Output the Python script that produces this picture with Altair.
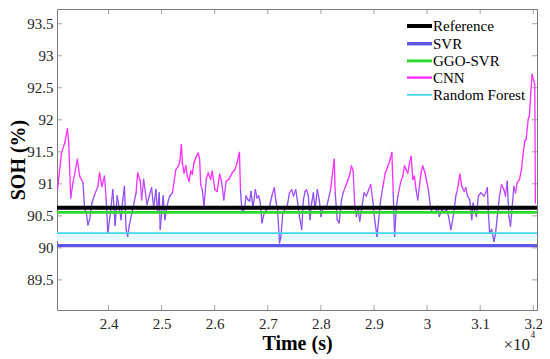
import altair as alt
import pandas as pd

# axis ranges and ticks
X_MIN, X_MAX = 23030, 32070
Y_MIN, Y_MAX = 89.03, 93.73
x_ticks = [24000, 25000, 26000, 27000, 28000, 29000, 30000, 31000, 32000]
y_ticks = [89.5, 90, 90.5, 91, 91.5, 92, 92.5, 93, 93.5]

# series
series_names = ["Reference", "SVR", "GGO-SVR", "CNN", "Random Forest"]
series_colors = ["#000000", "#5e56e4", "#2ed82e", "#ff2bff", "#44d6ea"]
series_widths = [4, 1.8, 2.4, 1.3, 1.2]

ref_soh = 90.625
svr_soh = 90.035
ggo_svr_soh = 90.555
rf_soh = 90.23
rf_band_low = 90.12

cnn_time = [23040, 23114, 23176, 23227, 23251, 23288, 23331, 23414, 23457, 23519,
            23551, 23582, 23612, 23644, 23687, 23738, 23800, 23831, 23875, 23925,
            23957, 23987, 24037, 24081, 24125, 24163, 24206, 24238, 24268, 24300,
            24331, 24361, 24393, 24455, 24519, 24549, 24599, 24624, 24661, 24725,
            24768, 24811, 24848, 24861, 24893, 24923, 24955, 24974, 25006, 25030,
            25062, 25092, 25129, 25155, 25204, 25268, 25317, 25343, 25373, 25391,
            25423, 25455, 25485, 25517, 25549, 25579, 25611, 25654, 25691, 25717,
            25736, 25766, 25798, 25841, 25878, 25923, 25953, 26004, 26047, 26092,
            26129, 26172, 26215, 26266, 26328, 26378, 26421, 26466, 26485, 26515,
            26560, 26590, 26627, 26659, 26684, 26721, 26766, 26796, 26828, 26860,
            26890, 26934, 26983, 27034, 27077, 27122, 27152, 27184, 27221, 27245,
            27283, 27328, 27371, 27408, 27451, 27483, 27526, 27564, 27596, 27639,
            27670, 27702, 27732, 27764, 27796, 27826, 27858, 27890, 27933, 27970,
            28002, 28032, 28064, 28096, 28139, 28182, 28219, 28251, 28270, 28307,
            28345, 28388, 28420, 28463, 28500, 28545, 28575, 28607, 28639, 28669,
            28700, 28732, 28775, 28813, 28856, 28901, 28938, 28976, 29013, 29056,
            29088, 29126, 29169, 29212, 29262, 29305, 29337, 29362, 29388, 29418,
            29450, 29500, 29543, 29575, 29605, 29637, 29669, 29699, 29731, 29762,
            29792, 29824, 29856, 29886, 29918, 29961, 29998, 30024, 30062, 30099,
            30156, 30199, 30230, 30279, 30324, 30367, 30405, 30448, 30493, 30541,
            30573, 30616, 30654, 30699, 30729, 30761, 30804, 30841, 30867, 30905,
            30929, 30966, 31010, 31073, 31103, 31135, 31154, 31178, 31216, 31260,
            31290, 31322, 31364, 31402, 31447, 31477, 31509, 31541, 31571, 31603,
            31635, 31665, 31697, 31740, 31777, 31803, 31840, 31865, 31903, 31927,
            31953, 31978, 32002, 32028, 32040]
cnn_soh = [90.91, 91.48, 91.64, 91.86, 91.64, 90.78, 91.02, 91.38, 91.12, 91.02,
           90.60, 90.55, 90.36, 90.44, 90.70, 90.83, 90.96, 91.17, 90.96, 91.12,
           90.75, 90.23, 90.55, 90.91, 90.35, 90.81, 90.60, 90.44, 90.75, 90.96,
           90.29, 90.18, 90.36, 90.60, 90.86, 91.17, 91.04, 90.75, 91.07, 90.68,
           90.81, 90.94, 90.65, 90.70, 90.91, 90.55, 90.86, 90.29, 90.60, 90.81,
           90.44, 90.60, 90.75, 90.81, 90.86, 91.22, 91.28, 91.35, 91.61, 91.33,
           91.17, 91.28, 91.12, 91.04, 91.20, 91.15, 91.33, 91.43, 91.48, 91.38,
           90.99, 90.91, 90.65, 91.07, 91.17, 91.07, 91.20, 90.91, 90.88, 91.15,
           91.04, 90.75, 91.04, 91.07, 91.17, 91.22, 91.33, 91.49, 90.91, 90.55,
           90.60, 90.81, 90.75, 90.73, 90.88, 90.63, 90.91, 90.78, 90.81, 90.70,
           90.39, 90.55, 90.60, 90.65, 90.81, 90.94, 90.73, 90.60, 90.08, 90.16,
           90.55, 90.60, 90.68, 90.86, 90.91, 90.81, 90.91, 90.70, 90.49, 90.29,
           90.75, 90.88, 90.91, 90.81, 90.44, 90.70, 90.86, 90.60, 90.91, 90.75,
           90.49, 90.60, 90.65, 90.60, 90.75, 90.91, 91.17, 91.38, 90.86, 90.44,
           90.39, 90.75, 90.86, 90.96, 91.04, 91.15, 91.28, 91.20, 90.65, 90.49,
           90.60, 90.42, 90.65, 90.86, 90.81, 90.91, 90.99, 90.75, 90.44, 90.18,
           90.44, 90.75, 90.96, 91.17, 91.28, 91.38, 91.49, 90.86, 90.18, 90.60,
           90.81, 91.02, 91.12, 91.28, 91.22, 91.17, 91.33, 91.43, 91.07, 91.12,
           90.91, 90.75, 90.96, 91.17, 91.28, 91.17, 91.02, 90.91, 90.65, 90.55,
           90.55, 90.65, 90.49, 90.60, 90.55, 90.60, 90.49, 90.29, 90.49, 90.81,
           90.91, 91.15, 90.96, 90.88, 90.94, 90.81, 90.75, 90.44, 90.70, 90.55,
           90.49, 90.81, 90.86, 90.81, 90.86, 90.94, 90.55, 90.23, 90.29, 90.10,
           90.23, 90.49, 90.81, 90.99, 90.91, 90.81, 91.04, 90.49, 90.34, 90.65,
           90.96, 90.86, 91.02, 91.07, 91.22, 91.43, 91.67, 91.69, 92.00, 92.06,
           92.42, 92.71, 92.63, 92.55, 90.70]

SERIF = "Liberation Serif, Times New Roman, Times, Nimbus Roman, DejaVu Serif, serif"
FRAME = "#7a7a7a"
LABEL = "#262626"
CNN_HIGH = "#ff2bff"
CNN_LOW = "#8c50f2"
PLOT_W, PLOT_H = 480, 301

# ---- data tables built from the lists
const_vals = {"Reference": ref_soh, "SVR": svr_soh, "GGO-SVR": ggo_svr_soh,
              "Random Forest": rf_soh}
const_rows = []
for name, v in const_vals.items():
    const_rows.append({"series": name, "time": X_MIN, "soh": v})
    const_rows.append({"series": name, "time": X_MAX, "soh": v})
const_df = pd.DataFrame(const_rows)

seg_df = pd.DataFrame({"time": cnn_time[:-1], "soh": cnn_soh[:-1],
                       "time2": cnn_time[1:], "soh2": cnn_soh[1:]})
seg_df["level"] = (seg_df["soh"] + seg_df["soh2"]) / 2

XS = alt.Scale(domain=[X_MIN, X_MAX], nice=False, zero=False)
YS = alt.Scale(domain=[Y_MIN, Y_MAX], nice=False, zero=False)
XA = alt.Axis(values=x_ticks, labelExpr="format(datum.value/10000, '.2~f')",
              domain=False, ticks=False, grid=False, labelPadding=6,
              labelOverlap=False, labelFlush=False,
              labelFont=SERIF, labelFontSize=15, labelColor=LABEL,
              title="Time (s)", titleFont=SERIF, titleFontSize=20, titleFontWeight="bold",
              titleColor="#000000",
              titleX=PLOT_W / 2, titleY=39, titleBaseline="alphabetic", titleAlign="center")
YA = alt.Axis(values=y_ticks, format="~g", domain=False, ticks=False, grid=False,
              labelPadding=4, labelOverlap=False, labelFlush=False,
              labelFont=SERIF, labelFontSize=15, labelColor=LABEL,
              title="SOH (%)", titleFont=SERIF, titleFontSize=20, titleFontWeight="bold",
              titleColor="#000000",
              titleX=-33, titleY=PLOT_H / 2, titleAngle=270,
              titleBaseline="alphabetic", titleAlign="center")

X_ENC = alt.X("time:Q", scale=XS, axis=XA)
Y_ENC = alt.Y("soh:Q", scale=YS, axis=YA)

LEG = alt.Legend(title=None, orient="none", legendX=354, legendY=8.5,
                 symbolType="M-2,0H2", symbolSize=156.25, labelFont=SERIF,
                 labelFontSize=15, labelColor="#000000", labelOffset=5,
                 rowPadding=1.2, padding=0, labelBaseline="middle")
COLOR_ENC = alt.Color("series:N", scale=alt.Scale(domain=series_names, range=series_colors),
                      legend=LEG)
SW_ENC = alt.StrokeWidth("series:N", scale=alt.Scale(domain=series_names, range=series_widths),
                         legend=LEG)

band = alt.Chart(const_df).mark_rect(color="#e6fbfc").encode(
    x=alt.XDatum(X_MIN, scale=XS, axis=XA), x2=alt.X2Datum(X_MAX),
    y=alt.YDatum(rf_soh, scale=YS, axis=YA), y2=alt.Y2Datum(rf_band_low))

cnn_segs = alt.Chart(seg_df).mark_rule(strokeWidth=1.3, strokeCap="round").encode(
    x=X_ENC, y=Y_ENC, x2="time2:Q", y2="soh2:Q",
    stroke=alt.Stroke("level:Q", scale=alt.Scale(domain=[90.8, 91.0],
                                                 range=[CNN_LOW, CNN_HIGH], clamp=True),
                      legend=None))

lines = alt.Chart(const_df).mark_line().encode(
    x=X_ENC, y=Y_ENC, color=COLOR_ENC, strokeWidth=SW_ENC, detail="series:N")

xt_df = pd.DataFrame({"time": x_ticks})
yt_df = pd.DataFrame({"soh": y_ticks})
tick_b = alt.Chart(xt_df).mark_tick(orient="vertical", size=5, thickness=1, color=FRAME,
                                    yOffset=-2.5).encode(
    x=X_ENC, y=alt.YDatum(Y_MIN, scale=YS, axis=YA))
tick_t = alt.Chart(xt_df).mark_tick(orient="vertical", size=5, thickness=1, color=FRAME,
                                    yOffset=2.5).encode(
    x=X_ENC, y=alt.YDatum(Y_MAX, scale=YS, axis=YA))
tick_l = alt.Chart(yt_df).mark_tick(orient="horizontal", size=5, thickness=1, color=FRAME,
                                    xOffset=2.5).encode(
    y=Y_ENC, x=alt.XDatum(X_MIN, scale=XS, axis=XA))
tick_r = alt.Chart(yt_df).mark_tick(orient="horizontal", size=5, thickness=1, color=FRAME,
                                    xOffset=-2.5).encode(
    y=Y_ENC, x=alt.XDatum(X_MAX, scale=XS, axis=XA))

exp_base = alt.Chart(pd.DataFrame({"t": ["\u00d710"]})).mark_text(
    font=SERIF, fontSize=17, color=LABEL, align="right", baseline="alphabetic").encode(
    text="t:N", x=alt.value(473), y=alt.value(341))
exp_pow = alt.Chart(pd.DataFrame({"t": ["4"]})).mark_text(
    font=SERIF, fontSize=9.5, color=LABEL, align="left", baseline="alphabetic").encode(
    text="t:N", x=alt.value(473.5), y=alt.value(329))

chart = alt.layer(band, cnn_segs, lines, tick_b, tick_t, tick_l, tick_r,
                  exp_base, exp_pow).properties(
    width=PLOT_W, height=PLOT_H, autosize=alt.AutoSizeParams(type="none"),
    padding={"left": 49, "top": 1, "right": 5, "bottom": 49},
    background="white"
).configure_view(stroke=FRAME, strokeWidth=1)

chart.save("out.html", embed_options={"renderer": "svg", "actions": False})
